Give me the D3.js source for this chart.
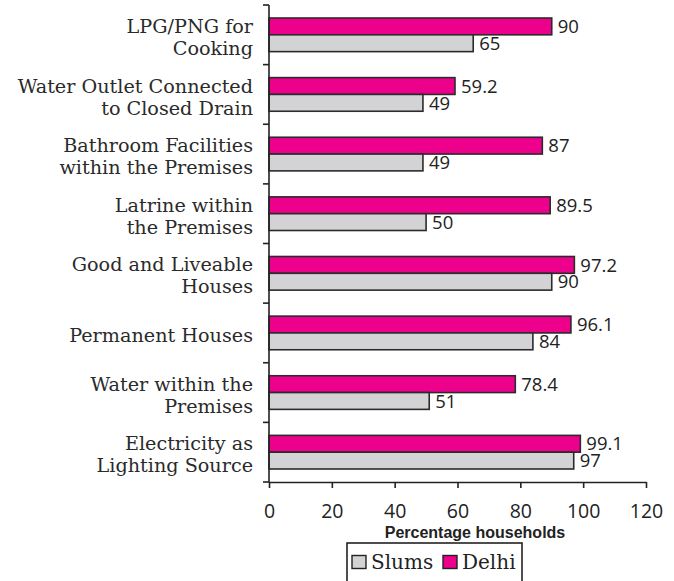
<!DOCTYPE html>
<html>
<head>
<meta charset="utf-8">
<script src="https://cdn.jsdelivr.net/npm/d3@7/dist/d3.min.js"></script>
<style>
  html, body { margin: 0; padding: 0; background: #fff; }
  svg { display: block; }
</style>
</head>
<body>
<svg id="chart" width="674" height="581"></svg>
<script>
// Household amenities: Delhi overall vs. slums (percentage of households)
const categories = [
  ["LPG/PNG for", "Cooking"],
  ["Water Outlet Connected", "to Closed Drain"],
  ["Bathroom Facilities", "within the Premises"],
  ["Latrine within", "the Premises"],
  ["Good and Liveable", "Houses"],
  ["Permanent Houses"],
  ["Water within the", "Premises"],
  ["Electricity as", "Lighting Source"]
];
const delhiValues = [90, 59.2, 87, 89.5, 97.2, 96.1, 78.4, 99.1];
const slumValues  = [65, 49, 49, 50, 90, 84, 51, 97];
const xTicks = [0, 20, 40, 60, 80, 100, 120];
const seriesNames = ["Slums", "Delhi"];
const seriesColors = { Delhi: "#ec008c", Slums: "#d3d3d5" };

const svg = d3.select("#chart");
const plotLeft = 269, plotRight = 646, plotTop = 5, plotBottom = 482;

const keys = categories.map((c, i) => i);
const y = d3.scaleBand().domain(keys).range([plotTop, plotBottom]).paddingInner(0).paddingOuter(0);
const inner = d3.scaleBand().domain(["Delhi", "Slums"]).range([13, y.bandwidth() - 13]);
const x = d3.scaleLinear().domain([0, 120]).range([plotLeft, plotRight]);

const rows = keys.map(i => ({ i, Delhi: delhiValues[i], Slums: slumValues[i] }));

// bars with value labels
const g = svg.append("g");
rows.forEach(r => {
  ["Delhi", "Slums"].forEach(s => {
    g.append("rect")
      .attr("x", x(0))
      .attr("y", y(r.i) + inner(s))
      .attr("width", x(r[s]) - x(0))
      .attr("height", inner.bandwidth())
      .attr("fill", seriesColors[s])
      .attr("stroke", "#2b2b2b")
      .attr("stroke-width", 1.6);
    g.append("text")
      .attr("x", x(r[s]) + 6)
      .attr("y", y(r.i) + inner(s) + inner.bandwidth() / 2)
      .attr("dy", "0.36em")
      .attr("font-family", "'Open Sans', sans-serif")
      .attr("font-size", 18.5)
      .attr("fill", "#222")
      .text(r[s]);
  });
});

// y axis line + ticks at band boundaries
const axisStroke = "#222";
svg.append("line").attr("x1", plotLeft).attr("x2", plotLeft).attr("y1", plotTop).attr("y2", plotBottom)
  .attr("stroke", axisStroke).attr("stroke-width", 1.6);
const bounds = keys.map(i => y(i)).concat([plotBottom]);
svg.selectAll(".ytick").data(bounds).join("line")
  .attr("x1", plotLeft - 6).attr("x2", plotLeft).attr("y1", d => d).attr("y2", d => d)
  .attr("stroke", axisStroke).attr("stroke-width", 1.6);

// category labels
categories.forEach((lines, i) => {
  const cy = y(i) + y.bandwidth() / 2 + 3;
  const n = lines.length;
  lines.forEach((t, k) => {
    svg.append("text")
      .attr("x", 253)
      .attr("y", cy + (k - (n - 1) / 2) * 22)
      .attr("dy", "0.32em")
      .attr("text-anchor", "end")
      .attr("font-family", "'DejaVu Serif', serif")
      .attr("font-size", 19.2)
      .attr("fill", "#2a2a2a")
      .text(t);
  });
});

// x axis
const xAxis = svg.append("g").attr("transform", `translate(0,${plotBottom})`)
  .call(d3.axisBottom(x).tickValues(xTicks).tickSize(6).tickPadding(16).tickSizeOuter(0));
xAxis.select(".domain").attr("stroke", axisStroke).attr("stroke-width", 1.6);
xAxis.selectAll(".tick line").attr("stroke", axisStroke).attr("stroke-width", 1.6);
xAxis.selectAll(".tick text")
  .attr("font-family", "'Open Sans', sans-serif")
  .attr("font-size", 19.5)
  .attr("fill", "#222");

svg.append("text")
  .attr("x", 475).attr("y", 538)
  .attr("text-anchor", "middle")
  .attr("font-family", "'Liberation Sans', Arial, sans-serif")
  .attr("font-weight", "bold")
  .attr("font-size", 16)
  .attr("fill", "#222")
  .text("Percentage households");

// legend
const lg = svg.append("g");
lg.append("rect").attr("x", 347).attr("y", 543).attr("width", 175).attr("height", 50)
  .attr("fill", "#fff").attr("stroke", "#222").attr("stroke-width", 1.6);
const legendX = { Slums: 352, Delhi: 443 };
seriesNames.forEach(s => {
  lg.append("rect").attr("x", legendX[s]).attr("y", 555.5).attr("width", 14).attr("height", 13)
    .attr("fill", seriesColors[s]).attr("stroke", "#222").attr("stroke-width", 1.4);
  lg.append("text").attr("x", legendX[s] + 19).attr("y", 562).attr("dy", "0.35em")
    .attr("font-family", "'DejaVu Serif', serif").attr("font-size", 20).attr("fill", "#222")
    .text(s);
});
</script>
</body>
</html>
